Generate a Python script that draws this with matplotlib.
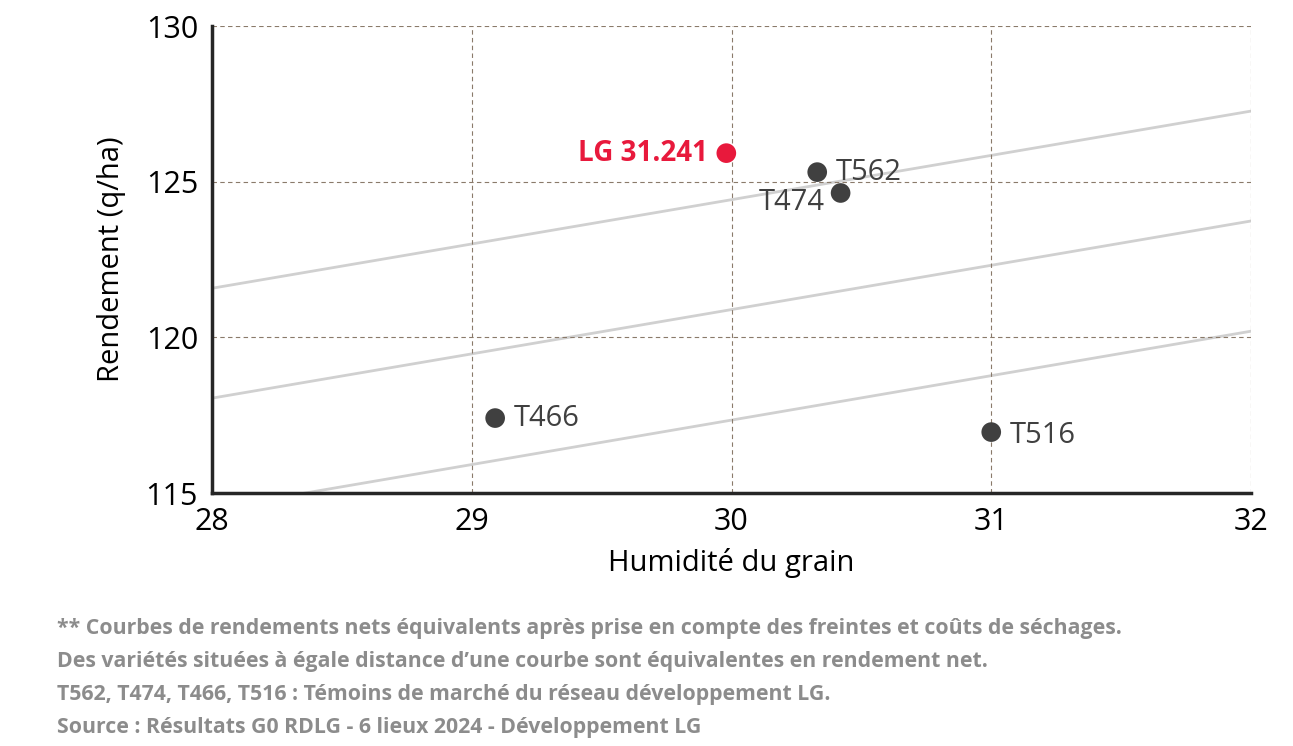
import matplotlib
matplotlib.use("Agg")
import matplotlib.pyplot as plt

names = ["LG 31.241", "T562", "T474", "T466", "T516"]
humid = [29.98, 30.33, 30.42, 29.09, 31.0]
yields = [125.92, 125.31, 124.64, 117.41, 116.96]
curve_x = [28, 32]
curves = [[121.58, 127.27], [118.05, 123.74], [114.49, 120.2]]
notes = [
    "** Courbes de rendements nets équivalents après prise en compte des freintes et coûts de séchages.",
    "Des variétés situées à égale distance d\u2019une courbe sont équivalentes en rendement net.",
    "T562, T474, T466, T516 : Témoins de marché du réseau développement LG.",
    "Source : Résultats G0 RDLG - 6 lieux 2024 - Développement LG",
]

plt.rcParams["font.family"] = "Open Sans"
fig = plt.figure(figsize=(12.93, 7.46), dpi=100)
ax = fig.add_axes([0.164, 0.339, 0.8035, 0.626])
for c in curves:
    ax.plot(curve_x, c, color="#d0d0d0", lw=2, zorder=1)
colors = ["#e8193c"] + ["#404040"] * 4
ax.scatter(humid, yields, s=200, c=colors, zorder=3, edgecolors="none")
offs = {"LG 31.241": (-0.07, 0, "right"), "T562": (0.07, 0, "left"),
        "T474": (-0.06, -0.3, "right"), "T466": (0.07, 0, "left"), "T516": (0.07, -0.1, "left")}
for n, x, y in zip(names, humid, yields):
    dx, dy, ha = offs[n]
    if n.startswith("LG"):
        ax.text(x + dx, y + dy, n, color="#e8193c", fontsize=20, fontweight="bold", ha=ha, va="center")
    else:
        ax.text(x + dx, y + dy, n, color="#404040", fontsize=21, ha=ha, va="center")
ax.set_xlim(28, 32)
ax.set_ylim(115, 130)
ax.set_xticks([28, 29, 30, 31, 32])
ax.set_yticks([115, 120, 125, 130])
ax.grid(True, ls=(0, (4, 3)), color="#8a7a6a", lw=0.8)
for s in ["top", "right"]:
    ax.spines[s].set_visible(False)
for s in ["left", "bottom"]:
    ax.spines[s].set_linewidth(2.5)
    ax.spines[s].set_color("#262626")
ax.tick_params(labelsize=22, length=0, pad=10)
ax.set_xlabel("Humidité du grain", fontsize=21, labelpad=8)
ax.set_ylabel("Rendement (q/ha)", fontsize=21, labelpad=14)
for i, t in enumerate(notes):
    fig.text(0.044, 0.158 - i * 0.0445, t, fontsize=15.3, fontweight="bold", color="#8c8c8c", va="center")
fig.savefig("out.png", dpi=100)
